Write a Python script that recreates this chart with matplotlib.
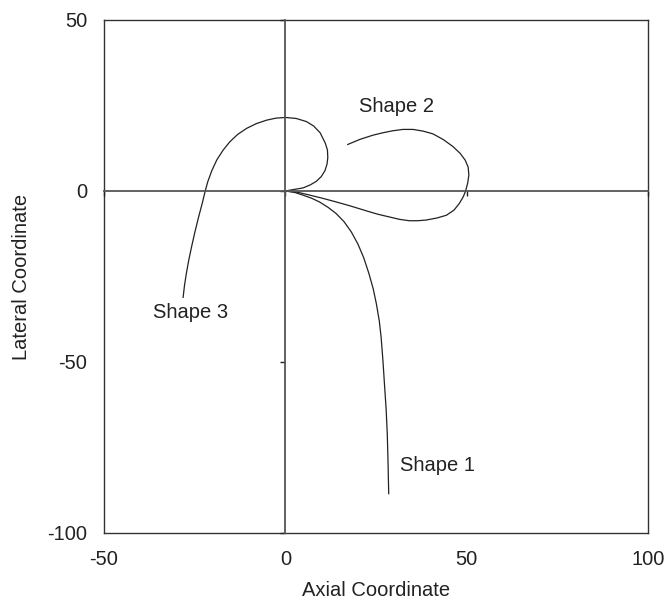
import matplotlib
matplotlib.use("Agg")
import matplotlib.pyplot as plt

plt.rcParams['font.family'] = ['Liberation Sans', 'DejaVu Sans']

# Axis ranges and tick values
x_ticks = [-50, 0, 50, 100]
y_ticks = [-100, -50, 0, 50]

# Shape 1: drops from the origin and turns downward
shape1_x = [0, 2.5, 4.8, 7.2, 9.4, 11.8, 14.0, 16.2, 18.2, 20.0, 21.6, 23.0,
            24.2, 25.1, 25.9, 26.4, 26.9, 27.3, 27.8, 28.1, 28.3, 28.5]
shape1_y = [0, -0.4, -1.2, -2.1, -3.2, -4.8, -6.6, -9.0, -12.0, -15.5, -19.5, -24.0,
            -28.5, -33.0, -38.0, -42.7, -49.5, -56.0, -64.0, -71.0, -78.7, -88.5]

# Shape 2: loop to the right of the origin
shape2_x = [0, 3.5, 6.7, 10.5, 14.0, 18.0, 22.3, 25.5, 28.7, 31.5, 34.2, 36.5,
            38.8, 41.8, 44.4, 46.5, 48.0, 49.1, 49.7, 50.3, 50.6, 50.4, 49.6, 48.2,
            46.2, 43.6, 40.7, 38.0, 35.2, 32.4, 29.6, 26.8, 24.1, 20.6, 17.2]
shape2_y = [0, -0.4, -1.2, -2.2, -3.2, -4.4, -5.8, -6.8, -7.6, -8.3, -8.7, -8.7,
            -8.5, -7.9, -7.1, -5.6, -3.6, -1.6, 0, 2.4, 4.7, 7.0, 9.0, 11.0,
            13.0, 15.0, 16.7, 17.5, 18.0, 18.0, 17.6, 17.0, 16.3, 15.1, 13.6]

# Shape 3: curls up over the origin and falls away to the left
shape3_x = [0, 2.1, 4.9, 6.9, 8.5, 9.9, 10.9, 11.5, 11.7, 11.6, 11.0, 9.6, 7.8,
            5.8, 3.0, 0.1, -2.6, -5.2, -8.0, -10.7, -13.2, -15.3, -17.2, -18.9,
            -20.3, -21.4, -22.1, -22.9, -23.9, -24.9, -25.8, -26.6, -27.3, -27.8, -28.2]
shape3_y = [0, 0.4, 0.9, 1.8, 2.8, 4.2, 5.9, 7.9, 9.8, 12.0, 14.0, 17.0, 19.0,
            20.3, 21.2, 21.5, 21.3, 20.7, 19.7, 18.3, 16.5, 14.4, 11.9, 9.1,
            5.9, 2.7, 0, -3.5, -7.5, -11.8, -16.0, -20.0, -24.1, -27.5, -31.1]

shape_labels = ["Shape 1", "Shape 2", "Shape 3"]
label_x = [31.5, 20.3, -36.6]
label_y = [-80.3, 24.6, -35.4]

ink = '#222222'
fs = 14.5

fig = plt.figure(figsize=(6.67, 6.0), dpi=100)
rect = [0.156, 0.1117, 0.8155, 0.855]

# Main axes: frame, outer tick labels, curves and annotations
ax = fig.add_axes(rect)
ax.set_xlim(-50, 100)
ax.set_ylim(-100, 50)
ax.set_xticks(x_ticks)
ax.set_yticks(y_ticks)
ax.set_xticklabels([str(v) for v in x_ticks])
ax.set_yticklabels([str(v) for v in y_ticks])
ax.tick_params(length=0, labelsize=fs, colors=ink, pad=12)
for sp in ax.spines.values():
    sp.set_color('#333333')
    sp.set_linewidth(1.0)

ax.set_xlabel("Axial Coordinate", fontsize=fs, color=ink, labelpad=9)
ax.set_ylabel("Lateral Coordinate", fontsize=fs, color=ink, labelpad=12)

for xs, ys in [(shape1_x, shape1_y), (shape2_x, shape2_y), (shape3_x, shape3_y)]:
    ax.plot(xs, ys, color=ink, lw=0.9, solid_joinstyle='round')

for txt, tx, ty in zip(shape_labels, label_x, label_y):
    ax.text(tx, ty, txt, fontsize=fs, color=ink, ha='left', va='center')

# Overlay axes: axis lines crossing at the origin with small tick marks
ax0 = fig.add_axes(rect, sharex=ax, sharey=ax)
ax0.patch.set_alpha(0)
ax0.spines['left'].set_position(('data', 0))
ax0.spines['bottom'].set_position(('data', 0))
ax0.spines['top'].set_visible(False)
ax0.spines['right'].set_visible(False)
for side in ('left', 'bottom'):
    ax0.spines[side].set_color('#555555')
    ax0.spines[side].set_linewidth(1.3)
ax0.tick_params(direction='out', length=3.5, width=1.0, color=ink,
                labelbottom=False, labelleft=False)

fig.savefig("out.png", dpi=100)
